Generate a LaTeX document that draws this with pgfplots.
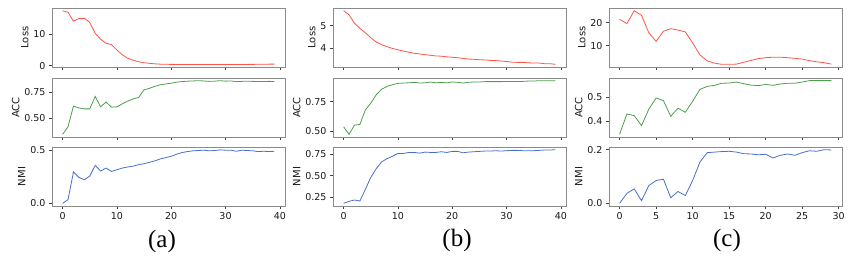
\documentclass[border=0pt]{standalone}
\usepackage{fontspec}
\setmainfont{DejaVu Sans}
\newfontfamily\serif{Liberation Serif}
\usepackage{pgfplots}
\pgfplotsset{compat=1.18}
\definecolor{lred}{HTML}{FF5545}
\definecolor{lgreen}{HTML}{4E9E4E}
\definecolor{lblue}{HTML}{4A6FC8}
\definecolor{frame}{HTML}{8A8A8A}
\pgfplotsset{
  sub/.style={
    scale only axis, width=233pt, height=59pt,
    axis line style={frame, line width=0.6pt},
    tick style={black!75, line width=0.5pt},
    tick align=outside, xtick pos=bottom, ytick pos=left,
    major tick length=3pt,
    /pgf/number format/assume math mode=true,
    tick label style={font=\fontsize{9.5}{11}\selectfont, text=black!90},
    ylabel style={font=\fontsize{10}{11}\selectfont, text=black!90, yshift=-2pt},
    every axis plot/.append style={line width=0.8pt, no markers},
    anchor=north west,
  },
  noxl/.style={xticklabels={}},
  colA/.style={xmin=-1.95, xmax=40.95, xtick={0,10,20,30,40}},
  colC/.style={xmin=-1.45, xmax=30.45, xtick={0,5,10,15,20,25,30}},
}
\begin{document}
\begin{tikzpicture}
\path[use as bounding box] (0,0) rectangle (857pt,-258pt);
% ---------------- (a) ----------------
\begin{axis}[sub, colA, noxl, at={(52pt,-8pt)}, ymin=-0.45, ymax=18.15, ytick={0,10}, ylabel={Loss}]
\addplot[lred] coordinates {(0,17.3)(1,16.8)(2,14.0)(3,14.8)(4,14.9)(5,13.6)(6,10.2)(7,8.3)(8,7.05)(9,6.6)(10,4.9)(11,3.4)(12,2.3)(13,1.7)(14,1.2)(15,0.9)(16,0.7)(17,0.55)(18,0.45)(19,0.4)(20,0.38)(21,0.36)(22,0.35)(23,0.35)(24,0.35)(25,0.35)(26,0.35)(27,0.35)(28,0.35)(29,0.35)(30,0.35)(31,0.35)(32,0.35)(33,0.36)(34,0.37)(35,0.38)(36,0.4)(37,0.42)(38,0.45)(39,0.45)};
\end{axis}
\begin{axis}[sub, colA, noxl, at={(52pt,-78pt)}, ymin=0.312, ymax=0.891, ytick={0.5,0.75}, yticklabels={0.50,0.75}, ylabel={ACC}]
\addplot[lgreen] coordinates {(0,0.338)(1,0.412)(2,0.615)(3,0.598)(4,0.588)(5,0.588)(6,0.71)(7,0.608)(8,0.655)(9,0.605)(10,0.608)(11,0.638)(12,0.665)(13,0.686)(14,0.70)(15,0.775)(16,0.79)(17,0.81)(18,0.825)(19,0.833)(20,0.84)(21,0.85)(22,0.856)(23,0.86)(24,0.862)(25,0.865)(26,0.862)(27,0.858)(28,0.86)(29,0.865)(30,0.86)(31,0.862)(32,0.855)(33,0.858)(34,0.86)(35,0.858)(36,0.857)(37,0.856)(38,0.858)(39,0.857)};
\end{axis}
\begin{axis}[sub, colA, at={(52pt,-147pt)}, ymin=-0.025, ymax=0.53, ytick={0,0.5}, yticklabels={0.0,0.5}, ylabel={NMI}]
\addplot[lblue] coordinates {(0,0.0)(1,0.035)(2,0.295)(3,0.244)(4,0.222)(5,0.256)(6,0.358)(7,0.304)(8,0.332)(9,0.30)(10,0.316)(11,0.332)(12,0.342)(13,0.35)(14,0.364)(15,0.373)(16,0.386)(17,0.40)(18,0.418)(19,0.43)(20,0.443)(21,0.462)(22,0.478)(23,0.487)(24,0.494)(25,0.497)(26,0.50)(27,0.494)(28,0.497)(29,0.503)(30,0.50)(31,0.50)(32,0.49)(33,0.50)(34,0.497)(35,0.494)(36,0.487)(37,0.49)(38,0.487)(39,0.49)};
\end{axis}
% ---------------- (b) ----------------
\begin{axis}[sub, colA, noxl, at={(333pt,-8pt)}, ymin=3.13, ymax=5.80, ytick={4,5}, ylabel={Loss}]
\addplot[lred] coordinates {(0,5.68)(1,5.49)(2,5.11)(3,4.88)(4,4.68)(5,4.46)(6,4.26)(7,4.14)(8,4.05)(9,3.97)(10,3.91)(11,3.85)(12,3.80)(13,3.75)(14,3.72)(15,3.69)(16,3.66)(17,3.63)(18,3.62)(19,3.59)(20,3.57)(21,3.55)(22,3.52)(23,3.49)(24,3.48)(25,3.46)(26,3.45)(27,3.43)(28,3.42)(29,3.40)(30,3.38)(31,3.35)(32,3.34)(33,3.34)(34,3.32)(35,3.31)(36,3.31)(37,3.28)(38,3.28)(39,3.25)};
\end{axis}
\begin{axis}[sub, colA, noxl, at={(333pt,-78pt)}, ymin=0.448, ymax=0.951, ytick={0.5,0.75}, yticklabels={0.50,0.75}, ylabel={ACC}]
\addplot[lgreen] coordinates {(0,0.535)(1,0.471)(2,0.549)(3,0.555)(4,0.678)(5,0.736)(6,0.807)(7,0.856)(8,0.879)(9,0.894)(10,0.905)(11,0.908)(12,0.91)(13,0.914)(14,0.908)(15,0.91)(16,0.917)(17,0.91)(18,0.914)(19,0.91)(20,0.917)(21,0.914)(22,0.908)(23,0.914)(24,0.917)(25,0.917)(26,0.92)(27,0.92)(28,0.92)(29,0.92)(30,0.922)(31,0.922)(32,0.922)(33,0.922)(34,0.925)(35,0.925)(36,0.928)(37,0.928)(38,0.928)(39,0.928)};
\end{axis}
\begin{axis}[sub, colA, at={(333pt,-147pt)}, ymin=0.148, ymax=0.833, ytick={0.25,0.5,0.75}, yticklabels={0.25,0.50,0.75}, ylabel={NMI}]
\addplot[lblue] coordinates {(0,0.179)(1,0.202)(2,0.218)(3,0.206)(4,0.34)(5,0.48)(6,0.58)(7,0.66)(8,0.698)(9,0.726)(10,0.758)(11,0.758)(12,0.77)(13,0.77)(14,0.762)(15,0.774)(16,0.77)(17,0.77)(18,0.778)(19,0.77)(20,0.782)(21,0.782)(22,0.766)(23,0.774)(24,0.778)(25,0.782)(26,0.786)(27,0.786)(28,0.79)(29,0.786)(30,0.79)(31,0.794)(32,0.794)(33,0.79)(34,0.79)(35,0.79)(36,0.794)(37,0.798)(38,0.798)(39,0.802)};
\end{axis}
% ---------------- (c) ----------------
\begin{axis}[sub, colC, noxl, at={(609pt,-8pt)}, ymin=0.74, ymax=26.4, ytick={10,20}, ylabel={Loss}]
\addplot[lred] coordinates {(0,21.5)(1,19.6)(2,25.2)(3,23.2)(4,15.6)(5,11.9)(6,16.3)(7,17.4)(8,16.8)(9,16.0)(10,11.2)(11,6.0)(12,3.4)(13,2.4)(14,1.9)(15,1.9)(16,2.0)(17,2.8)(18,3.6)(19,4.4)(20,4.8)(21,5.0)(22,5.0)(23,4.8)(24,4.5)(25,4.2)(26,3.5)(27,3.0)(28,2.6)(29,2.0)};
\end{axis}
\begin{axis}[sub, colC, noxl, at={(609pt,-78pt)}, ymin=0.333, ymax=0.581, ytick={0.4,0.5}, yticklabels={0.4,0.5}, ylabel={ACC}]
\addplot[lgreen] coordinates {(0,0.344)(1,0.43)(2,0.423)(3,0.381)(4,0.45)(5,0.497)(6,0.486)(7,0.42)(8,0.454)(9,0.437)(10,0.483)(11,0.533)(12,0.546)(13,0.55)(14,0.559)(15,0.56)(16,0.564)(17,0.557)(18,0.551)(19,0.549)(20,0.554)(21,0.55)(22,0.556)(23,0.559)(24,0.559)(25,0.564)(26,0.57)(27,0.57)(28,0.57)(29,0.57)};
\end{axis}
\begin{axis}[sub, colC, at={(609pt,-147pt)}, ymin=-0.01, ymax=0.21, ytick={0,0.2}, yticklabels={0.0,0.2}, ylabel={NMI}]
\addplot[lblue] coordinates {(0,0.0)(1,0.037)(2,0.054)(3,0.01)(4,0.066)(5,0.085)(6,0.09)(7,0.021)(8,0.044)(9,0.029)(10,0.085)(11,0.154)(12,0.189)(13,0.191)(14,0.193)(15,0.194)(16,0.191)(17,0.185)(18,0.184)(19,0.181)(20,0.183)(21,0.169)(22,0.179)(23,0.184)(24,0.179)(25,0.189)(26,0.196)(27,0.194)(28,0.2)(29,0.199)};
\end{axis}
% ---------------- panel letters ----------------
\node[font=\serif\fontsize{25}{28}\selectfont] at (162pt,-241pt) {(a)};
\node[font=\serif\fontsize{25}{28}\selectfont] at (457pt,-240pt) {(b)};
\node[font=\serif\fontsize{25}{28}\selectfont] at (727pt,-240pt) {(c)};
\end{tikzpicture}
\end{document}
